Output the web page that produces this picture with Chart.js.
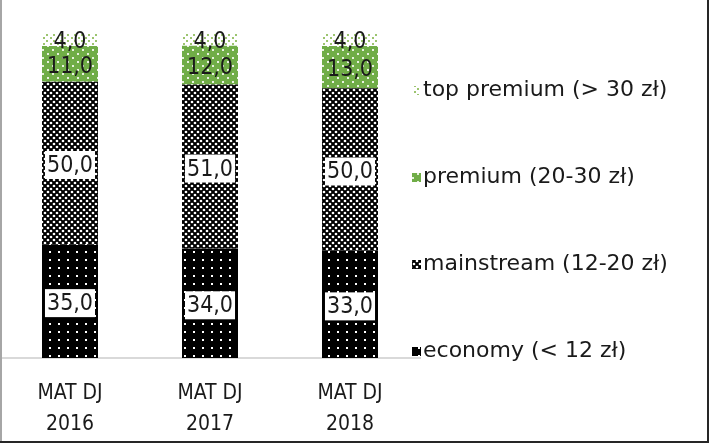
<!doctype html>
<html lang="pl">
<head>
    <meta charset="utf-8">
    <title>MAT DJ price segments</title>
    <style>
        * {
            margin: 0;
            padding: 0;
        }

        body {
            background: #fff;
        }
    </style>
</head>
<body>
<canvas id="myChart" width="709" height="443"></canvas>
<script src="https://cdn.jsdelivr.net/npm/chart.js"></script>
<script>
    // data
    const categories = [['MAT DJ', '2016'], ['MAT DJ', '2017'], ['MAT DJ', '2018']];
    const seriesNames = ['economy (< 12 zł)', 'mainstream (12-20 zł)', 'premium (20-30 zł)', 'top premium (> 30 zł)'];
    const economy = [35, 34, 33];
    const mainstream = [50, 51, 50];
    const premium = [11, 12, 13];
    const topPremium = [4, 4, 4];

    const series = [economy, mainstream, premium, topPremium];
    const totals = categories.map((c, i) => series.reduce((s, arr) => s + arr[i], 0));
    const toShare = arr => arr.map((v, i) => v / totals[i] * 100);

    const fmt = v => v.toFixed(1).replace('.', ',');
    const FONT_COND = "'DejaVu Sans Condensed', 'Liberation Sans Narrow', 'DejaVu Sans', sans-serif";
    const FONT_WIDE = "'DejaVu Sans', sans-serif";

    // patterns
    function makePattern(w, h, draw) {
        const c = document.createElement('canvas');
        c.width = w;
        c.height = h;
        draw(c.getContext('2d'));
        return document.createElement('canvas').getContext('2d').createPattern(c, 'repeat');
    }

    const patEconomy = makePattern(9, 8, g => {
        g.fillStyle = '#000';
        g.fillRect(0, 0, 9, 8);
        g.fillStyle = '#fff';
        g.fillRect(4, 3, 2, 2);
    });
    const patMainstream = makePattern(6, 6, g => {
        g.fillStyle = '#000';
        g.fillRect(0, 0, 6, 6);
        g.fillStyle = '#fff';
        [[0, 0], [6, 0], [0, 6], [6, 6], [3, 3]].forEach(([px, py]) => {
            g.beginPath();
            g.arc(px, py, 1.35, 0, Math.PI * 2);
            g.fill();
        });
    });
    const patPremium = makePattern(10, 8, g => {
        g.fillStyle = '#70ad47';
        g.fillRect(0, 0, 10, 8);
        g.fillStyle = '#e8f2df';
        g.fillRect(2, 1, 2, 2);
        g.fillRect(7, 5, 2, 2);
    });
    const patTop = makePattern(7, 6, g => {
        g.fillStyle = '#fff';
        g.fillRect(0, 0, 7, 6);
        g.fillStyle = '#9cc46f';
        g.fillRect(1, 1, 2, 2);
        g.fillRect(4, 4, 2, 2);
    });
    const patterns = [patEconomy, patMainstream, patPremium, patTop];

    // value labels on segments
    const segmentLabels = {
        id: 'segmentLabels',
        afterDatasetsDraw(chart) {
            const ctx = chart.ctx;
            ctx.save();
            ctx.font = '23px ' + FONT_COND;
            ctx.textAlign = 'center';
            ctx.textBaseline = 'middle';
            chart.data.datasets.forEach((ds, i) => {
                const meta = chart.getDatasetMeta(i);
                meta.data.forEach((bar, j) => {
                    const {x, y, base} = bar.getProps(['x', 'y', 'base'], true);
                    const cy = (y + base) / 2 + 2;
                    const text = fmt(ds.raw[j]);
                    const w = ctx.measureText(text).width;
                    if (ds.labelBox) {
                        ctx.fillStyle = '#fff';
                        ctx.fillRect(x - w / 2 - 2, cy - 14, w + 4, 28);
                    }
                    ctx.fillStyle = '#1a1a1a';
                    ctx.fillText(text, x, cy + 1);
                });
            });
            ctx.restore();
        }
    };

    // legend on the right, top item first
    const sideLegend = {
        id: 'sideLegend',
        afterDraw(chart) {
            const ctx = chart.ctx;
            const {top} = chart.chartArea;
            ctx.save();
            ctx.font = '22px ' + FONT_WIDE;
            ctx.textBaseline = 'middle';
            const items = chart.data.datasets.slice().reverse();
            items.forEach((ds, k) => {
                const cy = top + 57 + k * 87;
                ctx.fillStyle = ds.backgroundColor;
                ctx.fillRect(412, cy - 4, 9, 9);
                ctx.fillStyle = '#1a1a1a';
                ctx.fillText(ds.label, 423, cy);
            });
            ctx.restore();
        }
    };

    // outer frame
    const frame = {
        id: 'frame',
        afterDraw(chart) {
            const {ctx, width, height} = chart;
            ctx.save();
            ctx.fillStyle = '#a6a6a6';
            ctx.fillRect(0, 0, 2, height);
            ctx.fillStyle = '#262626';
            ctx.fillRect(width - 2, 0, 2, height);
            ctx.fillRect(0, height - 2, width, 2);
            ctx.restore();
        }
    };

    const data = {
        labels: categories,
        datasets: series.map((arr, i) => ({
            label: seriesNames[i],
            data: toShare(arr),
            raw: arr,
            labelBox: i < 2,
            backgroundColor: patterns[i],
            borderWidth: 0,
            barPercentage: 0.4,
            categoryPercentage: 1
        }))
    };

    const config = {
        type: 'bar',
        data,
        options: {
            responsive: false,
            devicePixelRatio: 1,
            animation: false,
            layout: {
                padding: {top: 33, right: 289, bottom: 5, left: 0}
            },
            plugins: {
                legend: {display: false},
                tooltip: {enabled: false}
            },
            scales: {
                x: {
                    stacked: true,
                    afterFit(scale) {
                        scale.height = 80;
                    },
                    grid: {display: false, drawTicks: false},
                    border: {display: true, color: '#d9d9d9', width: 2},
                    ticks: {
                        padding: 20,
                        color: '#1a1a1a',
                        font: {family: FONT_COND, size: 21, lineHeight: 1.48}
                    }
                },
                y: {
                    stacked: true,
                    display: false,
                    min: 0,
                    max: 100
                }
            }
        },
        plugins: [segmentLabels, sideLegend, frame]
    };

    const myChart = new Chart(document.getElementById('myChart'), config);
</script>
</body>
</html>
